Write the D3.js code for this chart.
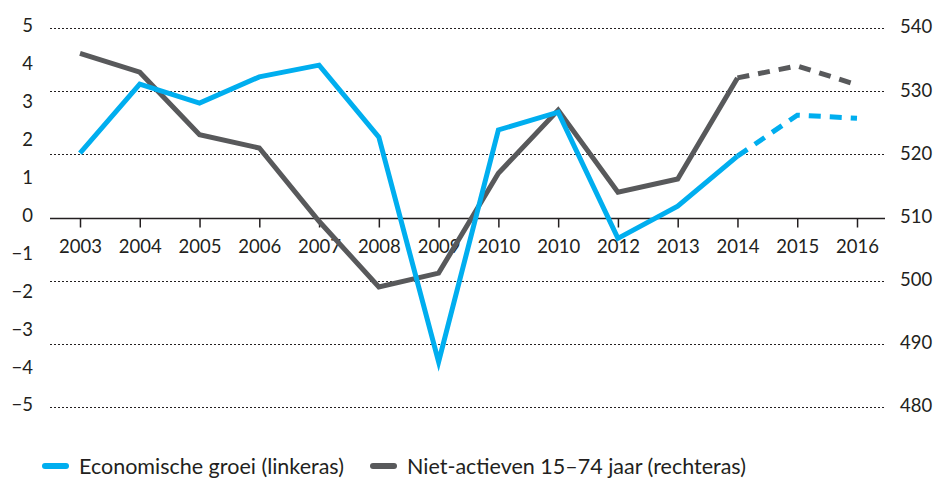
<!DOCTYPE html>
<html>
<head>
<meta charset="utf-8">
<script src="https://cdn.jsdelivr.net/npm/d3@7"></script>
<style>
  body { margin: 0; background: #fff; }
  text { font-family: Lato, "Open Sans", sans-serif; fill: #231f20; }
</style>
</head>
<body>
<div id="chart"></div>
<script>
// ===== DATA =====
const years = ["2003","2004","2005","2006","2007","2008","2009","2010","2010","2012","2013","2014","2015","2016"];
const groei = [1.70, 3.52, 3.02, 3.71, 4.02, 2.12, -3.81, 2.31, 2.78, -0.55, 0.30, 1.62, 2.70, 2.62];
const nietActief = [536.0, 533.0, 523.1, 521.0, 509.4, 499.0, 501.2, 517.0, 527.0, 514.0, 516.1, 532.1, 534.0, 531.0];
const leftTicks = [5, 4, 3, 2, 1, 0, -1, -2, -3, -4, -5];
const rightTicks = [540, 530, 520, 510, 500, 490, 480];
const forecastFrom = 11; // 2014 onwards dashed
const seriesNames = ["Economische groei (linkeras)", "Niet-actieven 15\u201374 jaar (rechteras)"];

// ===== SIZE =====
const width = 937;
const height = 478;
const blue = "#00aeef";
const grey = "#58595b";

const svg = d3.select("#chart")
  .append("svg")
  .attr("width", width)
  .attr("height", height);

const x = d3.scalePoint()
  .domain(d3.range(years.length))
  .range([80, 857]);

const yL = d3.scaleLinear().domain([-5, 5]).range([407, 28]);
const yR = d3.scaleLinear().domain([480, 540]).range([407, 28]);

// grid (dotted)
svg.append("g")
  .selectAll("line")
  .data(rightTicks.filter(d => d !== 510))
  .join("line")
  .attr("x1", 50)
  .attr("x2", 885)
  .attr("y1", d => Math.round(yR(d)) + 0.5)
  .attr("y2", d => Math.round(yR(d)) + 0.5)
  .attr("stroke", "#231f20")
  .attr("stroke-width", 1)
  .attr("stroke-dasharray", "2,2");

// x axis on the zero line
const xAxis = svg.append("g")
  .attr("transform", `translate(0,${Math.round(yL(0)) + 0.5})`)
  .call(d3.axisBottom(x).tickSize(9).tickPadding(12).tickFormat(i => years[i]));

xAxis.select(".domain")
  .attr("d", "M50,0H885")
  .attr("stroke", "#231f20")
  .attr("stroke-width", 1.5);
xAxis.selectAll(".tick line").attr("stroke", "#231f20").attr("stroke-width", 1.5);
xAxis.selectAll(".tick text")
  .style("font-size", "18.5px")
  .style("font-family", "Lato, sans-serif")
  .attr("fill", "#231f20");

// left labels
svg.append("g")
  .selectAll("text")
  .data(leftTicks)
  .join("text")
  .attr("x", 33)
  .attr("y", d => yL(d) - 2)
  .attr("dy", "0.35em")
  .attr("text-anchor", "end")
  .style("font-size", "18.5px")
  .text(d => d < 0 ? "\u2212" + Math.abs(d) : d);

// right labels
svg.append("g")
  .selectAll("text")
  .data(rightTicks)
  .join("text")
  .attr("x", 900)
  .attr("y", d => yR(d) - 1)
  .attr("dy", "0.35em")
  .attr("text-anchor", "start")
  .style("font-size", "18.5px")
  .text(d => d);

// lines
const lineL = d3.line().x(d => x(d.i)).y(d => yL(d.v));
const lineR = d3.line().x(d => x(d.i)).y(d => yR(d.v));

const groeiPts = groei.map((v, i) => ({ i, v }));
const nietPts = nietActief.map((v, i) => ({ i, v }));

function drawSeries(pts, gen, color) {
  svg.append("path")
    .attr("d", gen(pts.slice(0, forecastFrom + 1)))
    .attr("fill", "none")
    .attr("stroke", color)
    .attr("stroke-width", 5);
  svg.append("path")
    .attr("d", gen(pts.slice(forecastFrom)))
    .attr("fill", "none")
    .attr("stroke", color)
    .attr("stroke-width", 5)
    .attr("stroke-dasharray", "12,9");
}

drawSeries(nietPts, lineR, grey);
drawSeries(groeiPts, lineL, blue);

// legend
const legendX = [42, 370];
const legend = svg.append("g")
  .selectAll("g")
  .data(seriesNames)
  .join("g")
  .attr("transform", (d, i) => `translate(${legendX[i]},466)`);

legend.append("line")
  .attr("x1", 3)
  .attr("x2", 24)
  .attr("stroke", (d, i) => i === 0 ? blue : grey)
  .attr("stroke-width", 6)
  .attr("stroke-linecap", "round");

legend.append("text")
  .attr("x", 37)
  .attr("dy", "0.35em")
  .style("font-size", "21.5px")
  .text(d => d);
</script>
</body>
</html>
